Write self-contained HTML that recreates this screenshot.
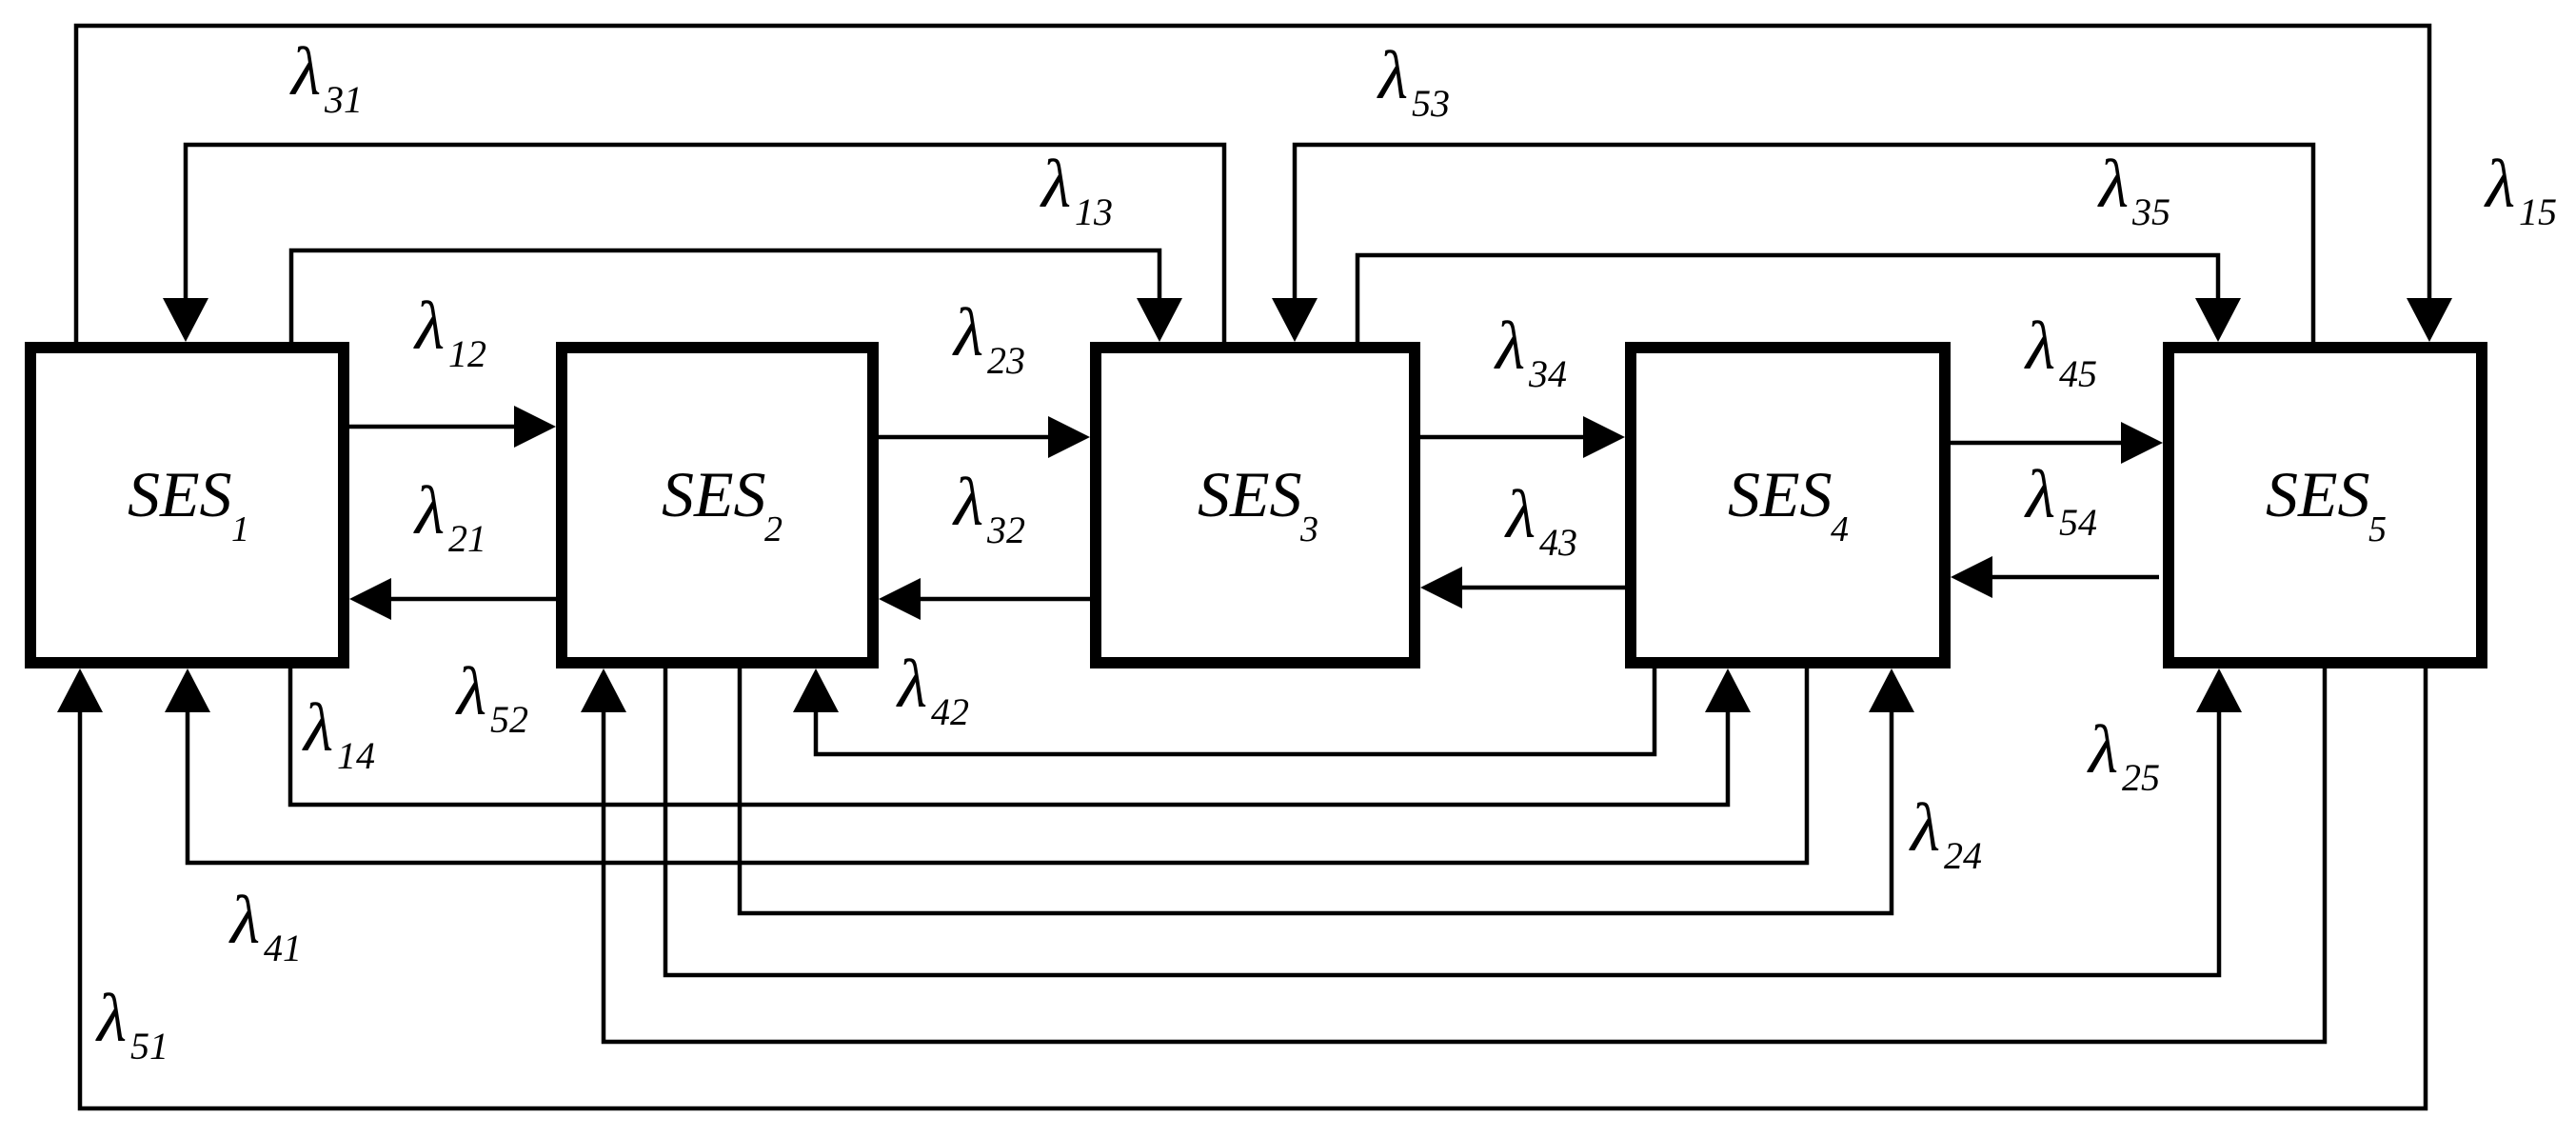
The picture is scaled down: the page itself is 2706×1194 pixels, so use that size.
<!DOCTYPE html>
<html><head><meta charset="utf-8"><style>
html,body{margin:0;padding:0;background:#fff}
svg{display:block}
text{font-family:"Liberation Serif",serif;font-style:italic;fill:#000}
.l{font-size:72px}.s{font-size:40px}.b{font-size:68px}.bs{font-size:38px}
</style></head><body>
<svg width="2706" height="1194" viewBox="0 0 2706 1194" xmlns="http://www.w3.org/2000/svg">
<g fill="#fff" stroke="#000" stroke-width="12">
<rect x="32" y="365" width="329" height="331"/>
<rect x="590" y="365" width="327" height="331"/>
<rect x="1151" y="365" width="335" height="331"/>
<rect x="1713" y="365" width="330" height="331"/>
<rect x="2278" y="365" width="329" height="331"/>
</g>
<g stroke="#000" stroke-width="4.5" fill="none">
<polyline points="80,359 80,27 2552,27 2552,320"/>
<polyline points="1286,359 1286,152 195,152 195,320"/>
<polyline points="306,359 306,263 1218,263 1218,320"/>
<polyline points="2430,359 2430,152 1360,152 1360,320"/>
<polyline points="1426,359 1426,268 2330,268 2330,320"/>
<line x1="367" y1="448" x2="545" y2="448"/>
<line x1="406" y1="629" x2="584" y2="629"/>
<line x1="923" y1="459" x2="1105" y2="459"/>
<line x1="962" y1="629" x2="1145" y2="629"/>
<line x1="1492" y1="459" x2="1665" y2="459"/>
<line x1="1532" y1="617" x2="1707" y2="617"/>
<line x1="2049" y1="465" x2="2230" y2="465"/>
<line x1="2092" y1="606" x2="2268" y2="606"/>
<polyline points="1738,702 1738,792 857,792 857,748"/>
<polyline points="305,702 305,845 1815,845 1815,748"/>
<polyline points="1898,702 1898,906 197,906 197,748"/>
<polyline points="777,702 777,959 1987,959 1987,748"/>
<polyline points="699,702 699,1024 2331,1024 2331,748"/>
<polyline points="2442,702 2442,1094 634,1094 634,748"/>
<polyline points="2548,702 2548,1164 84,1164 84,748"/>
</g>
<g fill="#000">
<polygon points="2528,313 2576,313 2552,359"/>
<polygon points="171,313 219,313 195,359"/>
<polygon points="1194,313 1242,313 1218,359"/>
<polygon points="1336,313 1384,313 1360,359"/>
<polygon points="2306,313 2354,313 2330,359"/>
<polygon points="833,748 881,748 857,702"/>
<polygon points="1791,748 1839,748 1815,702"/>
<polygon points="173,748 221,748 197,702"/>
<polygon points="1963,748 2011,748 1987,702"/>
<polygon points="2307,748 2355,748 2331,702"/>
<polygon points="610,748 658,748 634,702"/>
<polygon points="60,748 108,748 84,702"/>
<polygon points="540,426 540,470 584,448"/>
<polygon points="1101,437 1101,481 1145,459"/>
<polygon points="1663,437 1663,481 1707,459"/>
<polygon points="2228,443 2228,487 2272,465"/>
<polygon points="411,607 411,651 367,629"/>
<polygon points="967,607 967,651 923,629"/>
<polygon points="1536,595 1536,639 1492,617"/>
<polygon points="2093,584 2093,628 2049,606"/>
</g>
<g>
<text class="b" x="134" y="542">SES</text><text class="bs" x="243" y="568">1</text>
<text class="b" x="695" y="542">SES</text><text class="bs" x="803" y="568">2</text>
<text class="b" x="1258" y="542">SES</text><text class="bs" x="1366" y="568">3</text>
<text class="b" x="1815" y="542">SES</text><text class="bs" x="1923" y="568">4</text>
<text class="b" x="2380" y="542">SES</text><text class="bs" x="2488" y="568">5</text>
</g>
<g>
<text class="l" x="306" y="99">λ</text><text class="s" x="341" y="118">31</text>
<text class="l" x="1094" y="217">λ</text><text class="s" x="1129" y="236">13</text>
<text class="l" x="436" y="366">λ</text><text class="s" x="471" y="385">12</text>
<text class="l" x="436" y="560">λ</text><text class="s" x="471" y="579">21</text>
<text class="l" x="1002" y="373">λ</text><text class="s" x="1037" y="392">23</text>
<text class="l" x="1002" y="551">λ</text><text class="s" x="1037" y="570">32</text>
<text class="l" x="480" y="750">λ</text><text class="s" x="515" y="769">52</text>
<text class="l" x="319" y="788">λ</text><text class="s" x="354" y="807">14</text>
<text class="l" x="943" y="742">λ</text><text class="s" x="978" y="761">42</text>
<text class="l" x="242" y="990">λ</text><text class="s" x="277" y="1009">41</text>
<text class="l" x="102" y="1093">λ</text><text class="s" x="137" y="1112">51</text>
<text class="l" x="1448" y="103">λ</text><text class="s" x="1483" y="122">53</text>
<text class="l" x="2205" y="217">λ</text><text class="s" x="2240" y="236">35</text>
<text class="l" x="2611" y="217">λ</text><text class="s" x="2646" y="236">15</text>
<text class="l" x="1571" y="387">λ</text><text class="s" x="1606" y="406">34</text>
<text class="l" x="2128" y="387">λ</text><text class="s" x="2163" y="406">45</text>
<text class="l" x="1582" y="564">λ</text><text class="s" x="1617" y="583">43</text>
<text class="l" x="2128" y="543">λ</text><text class="s" x="2163" y="562">54</text>
<text class="l" x="2194" y="811">λ</text><text class="s" x="2229" y="830">25</text>
<text class="l" x="2007" y="893">λ</text><text class="s" x="2042" y="912">24</text>
</g>
</svg>
</body></html>
